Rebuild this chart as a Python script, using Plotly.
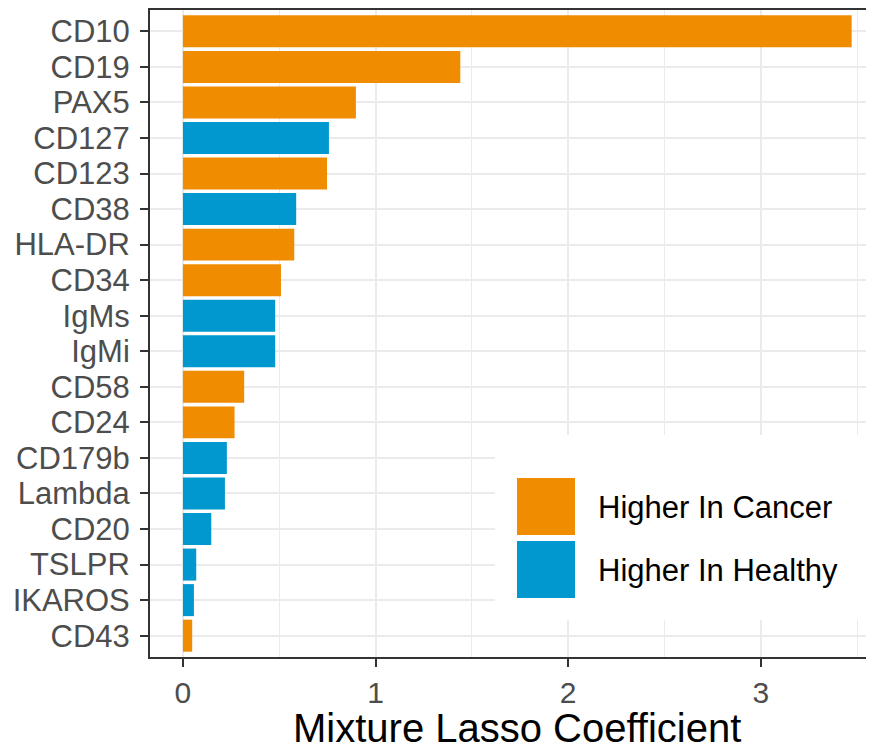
import plotly.graph_objects as go

markers = ["CD10", "CD19", "PAX5", "CD127", "CD123", "CD38", "HLA-DR", "CD34", "IgMs",
           "IgMi", "CD58", "CD24", "CD179b", "Lambda", "CD20", "TSLPR", "IKAROS", "CD43"]
coefs = [3.472, 1.44, 0.898, 0.758, 0.748, 0.588, 0.578, 0.509, 0.479,
         0.479, 0.318, 0.268, 0.228, 0.218, 0.147, 0.069, 0.057, 0.048]
direction = ["Higher In Cancer", "Higher In Cancer", "Higher In Cancer", "Higher In Healthy",
             "Higher In Cancer", "Higher In Healthy", "Higher In Cancer", "Higher In Cancer",
             "Higher In Healthy", "Higher In Healthy", "Higher In Cancer", "Higher In Cancer",
             "Higher In Healthy", "Higher In Healthy", "Higher In Healthy", "Higher In Healthy",
             "Higher In Healthy", "Higher In Cancer"]
groups = ["Higher In Cancer", "Higher In Healthy"]
group_colors = ["#EF8C00", "#0098CE"]
x_ticks = [0, 1, 2, 3]

FONT = "Liberation Sans, Arial, sans-serif"
GRID = "#EBEBEB"
DARK = "#333333"

fig = go.Figure()
for g, c in zip(groups, group_colors):
    ys = [m for m, d in zip(markers, direction) if d == g]
    xs = [v for v, d in zip(coefs, direction) if d == g]
    fig.add_trace(go.Bar(y=ys, x=xs, orientation="h", name=g, marker_color=c,
                         marker_line_width=0, width=0.9, showlegend=False))

# page body has an 8px default margin; compensate so the panel sits at screen px 150..874, 10..657
OFF = 8
SW, SH = 874, 753
PL, PR, PT, PB = 150, 874, 10, 657
W, H = SW - OFF, SH - OFF
L, T = PL - OFF, PT - OFF
R = SW - PR
B = H - (PB - OFF)
pw, ph = PR - PL, PB - PT


def px(x):
    return (x - PL) / pw


def py(y):
    return (PB - y) / ph


shapes = [dict(type="rect", xref="paper", yref="paper", x0=px(495), x1=1.0,
               y0=py(620), y1=py(435), fillcolor="white", line_width=0, layer="above")]
annotations = []
key_tops = [478, 541]
for g, c, kt in zip(groups, group_colors, key_tops):
    shapes.append(dict(type="rect", xref="paper", yref="paper", x0=px(517), x1=px(575),
                       y0=py(kt + 57), y1=py(kt), fillcolor=c, line_width=0, layer="above"))
    annotations.append(dict(text=g, xref="paper", yref="paper", x=px(596), y=py(kt + 29),
                            xanchor="left", yanchor="middle", showarrow=False,
                            font=dict(family=FONT, size=31, color="black")))

annotations.append(dict(text="Mixture Lasso Coefficient", xref="paper", yref="paper",
                        x=px(517), y=py(728), xanchor="center", yanchor="middle",
                        showarrow=False, font=dict(family=FONT, size=40, color="black")))

fig.update_layout(
    width=W, height=H, margin=dict(l=L, r=R, t=T, b=B, pad=0),
    plot_bgcolor="white", paper_bgcolor="white", barmode="overlay",
    font=dict(family=FONT), shapes=shapes, annotations=annotations,
    xaxis=dict(range=[-0.171, 3.588], tickmode="array", tickvals=x_ticks,
               ticktext=[str(t) for t in x_ticks],
               showgrid=True, gridcolor=GRID, gridwidth=2.2, zeroline=False,
               minor=dict(tickvals=[0.5, 1.5, 2.5, 3.5], showgrid=True, gridcolor=GRID,
                          gridwidth=1.2, ticks=""),
               showline=True, linecolor=DARK, linewidth=2, mirror=True,
               ticks="outside", ticklen=8, tickwidth=2, tickcolor=DARK,
               tickfont=dict(family=FONT, size=30, color="#4D4D4D")),
    yaxis=dict(categoryorder="array", categoryarray=markers, range=[17.6, -0.6],
               tickmode="array", tickvals=markers, ticktext=markers,
               showgrid=True, gridcolor=GRID, gridwidth=2.2, zeroline=False,
               showline=True, linecolor=DARK, linewidth=2, mirror=False,
               ticks="outside", ticklen=8, tickwidth=2, tickcolor=DARK,
               ticklabelstandoff=4,
               tickfont=dict(family=FONT, size=31, color="#4D4D4D")),
)

fig.write_html("out.html")
